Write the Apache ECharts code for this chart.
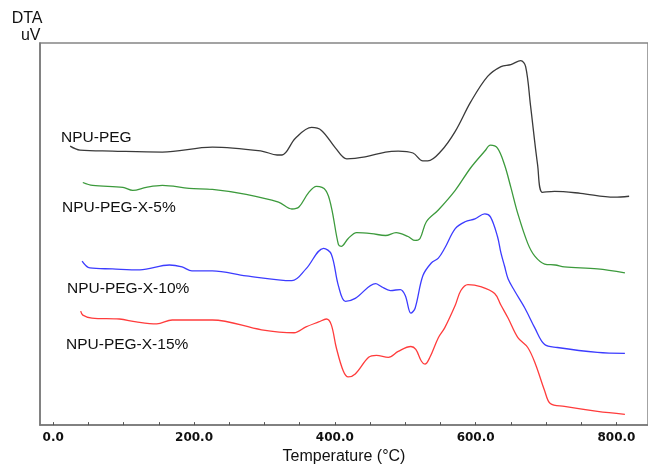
<!DOCTYPE html>
<html>
<head>
<meta charset="utf-8">
<script src="https://cdn.jsdelivr.net/npm/echarts@6/dist/echarts.min.js"></script>
<style>
  html, body { margin: 0; padding: 0; background: #fff; }
  #main { width: 648px; height: 470px; }
</style>
</head>
<body>
<div id="main"></div>
<script>
// temperature (°C) / DTA signal (arbitrary offset units)
let pegT = [24, 38, 84, 155, 226, 296, 318, 325, 344, 367, 381, 401, 417, 443, 472, 490, 511, 525, 532, 551, 571, 593, 617, 636, 650, 664, 671, 678, 688, 695, 712, 749, 797, 818];
let pegV = [284, 280, 279, 278, 283, 279, 275, 275, 292, 303, 300, 282, 271, 273, 278, 279, 277, 269, 269, 279, 299, 329, 355, 365, 367, 371, 365, 325, 265, 237, 238, 236, 232, 233];

let x5T = [42, 56, 99, 113, 132, 155, 193, 226, 274, 320, 339, 349, 363, 374, 387, 395, 405, 409, 419, 431, 452, 472, 487, 504, 514, 521, 530, 547, 571, 593, 613, 621, 631, 641, 650, 660, 674, 684, 698, 713, 726, 773, 812];
let x5V = [247, 244, 242, 239, 242, 244, 241, 240, 235, 227, 220, 222, 237, 243, 239, 222, 184, 182, 190, 196, 195, 193, 196, 192, 188, 190, 207, 219, 239, 262, 279, 285, 282, 265, 242, 215, 185, 172, 164, 163, 161, 159, 155];

let x10T = [41, 52, 84, 123, 165, 183, 197, 226, 274, 339, 359, 384, 395, 405, 415, 429, 458, 466, 479, 493, 500, 508, 514, 525, 537, 547, 556, 571, 585, 599, 613, 621, 631, 636, 641, 646, 655, 670, 684, 698, 716, 773, 812];
let x10V = [167, 160, 159, 158, 163, 161, 157, 157, 152, 147, 159, 180, 174, 142, 126, 129, 144, 141, 137, 138, 132, 114, 119, 152, 165, 170, 180, 200, 207, 210, 215, 212, 192, 175, 162, 149, 137, 119, 99, 82, 79, 74, 73];

let x15T = [39, 42, 55, 94, 118, 147, 169, 226, 296, 342, 359, 377, 388, 395, 402, 412, 419, 429, 448, 459, 476, 490, 508, 515, 523, 528, 535, 547, 556, 571, 579, 589, 607, 627, 636, 646, 660, 674, 685, 698, 706, 726, 773, 812];
let x15V = [116, 112, 109, 108, 105, 103, 107, 107, 97, 94, 100, 105, 108, 102, 79, 55, 49, 52, 69, 71, 69, 75, 80, 77, 65, 62, 69, 89, 99, 122, 137, 143, 141, 134, 122, 109, 89, 79, 62, 35, 22, 19, 14, 11];

let seriesNames = ['NPU-PEG', 'NPU-PEG-X-5%', 'NPU-PEG-X-10%', 'NPU-PEG-X-15%'];
let seriesColors = ['#3a3a3a', '#3c9a3c', '#3c3cff', '#ff3c3c'];

let tickValues = [0, 50, 100, 150, 200, 250, 300, 350, 400, 450, 500, 550, 600, 650, 700, 750, 800];
let labelValues = [0, 200, 400, 600, 800];

function pairs(xs, ys) {
  return xs.map(function (x, i) { return [x, ys[i]]; });
}

let curves = [pairs(pegT, pegV), pairs(x5T, x5V), pairs(x10T, x10V), pairs(x15T, x15V)];

let chart = echarts.init(document.getElementById('main'));

let labelFont = '"Liberation Sans", Arial, sans-serif';
let curveLabels = [
  {x: 61, y: 138},
  {x: 62, y: 207.5},
  {x: 67, y: 288.5},
  {x: 66, y: 344.5}
];

let option = {
  animation: false,
  backgroundColor: '#fff',
  grid: {
    left: 40,
    right: -3,
    top: 43,
    bottom: 38,
    show: true,
    borderColor: '#858585',
    borderWidth: 1.5
  },
  xAxis: {
    type: 'value',
    min: -18.8,
    max: 844.8,
    name: 'Temperature (°C)',
    nameLocation: 'middle',
    nameGap: 22,
    nameTextStyle: {
      fontFamily: labelFont,
      fontSize: 16,
      color: '#111'
    },
    axisLine: {lineStyle: {color: '#777', width: 1.5}},
    axisTick: {
      show: true,
      inside: true,
      length: 3,
      customValues: tickValues,
      lineStyle: {color: '#555'}
    },
    axisLabel: {
      customValues: labelValues,
      formatter: function (v) { return v.toFixed(1); },
      fontFamily: '"DejaVu Sans", Verdana, sans-serif',
      fontWeight: 'bold',
      fontSize: 12,
      color: '#111',
      margin: 7
    },
    splitLine: {show: false}
  },
  yAxis: {
    type: 'value',
    min: 0,
    max: 389,
    axisLine: {show: true, onZero: false, lineStyle: {color: '#777', width: 1.5}},
    axisTick: {show: false},
    axisLabel: {show: false},
    splitLine: {show: false}
  },
  graphic: [
    {
      type: 'text', x: 42.5, y: 18.5,
      style: {text: 'DTA', font: '16px ' + labelFont, fill: '#111', align: 'right', verticalAlign: 'middle'}
    },
    {
      type: 'text', x: 40.5, y: 35.5,
      style: {text: 'uV', font: '16px ' + labelFont, fill: '#111', align: 'right', verticalAlign: 'middle'}
    }
  ].concat(curveLabels.map(function (p, i) {
    return {
      type: 'text', x: p.x, y: p.y,
      style: {
        text: seriesNames[i],
        font: '15.5px ' + labelFont,
        fill: '#111',
        verticalAlign: 'middle'
      }
    };
  })),
  series: curves.map(function (d, i) {
    return {
      name: seriesNames[i],
      type: 'line',
      data: d,
      smooth: 0.35,
      showSymbol: false,
      lineStyle: {color: seriesColors[i], width: 1.3}
    };
  })
};

chart.setOption(option);
</script>
</body>
</html>
